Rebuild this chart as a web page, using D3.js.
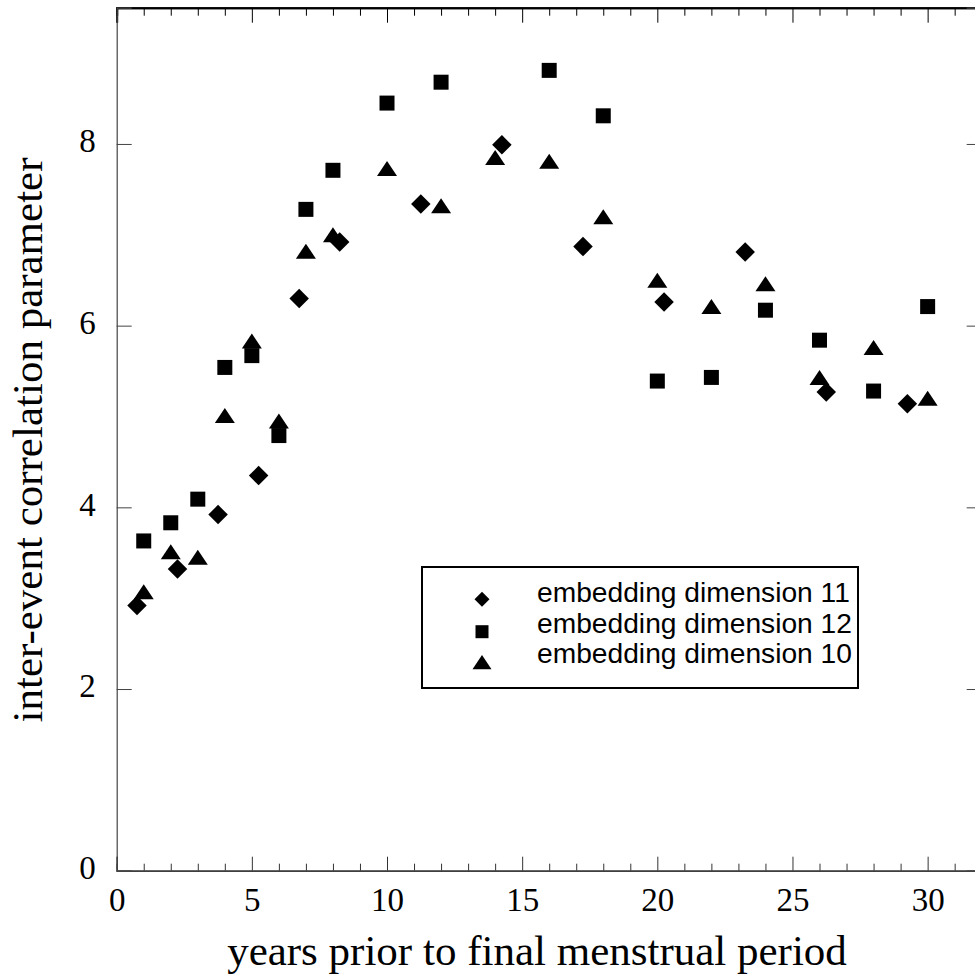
<!DOCTYPE html>
<html><head><meta charset="utf-8">
<script src="https://cdn.jsdelivr.net/npm/d3@7"></script>
<style>
html,body{margin:0;padding:0;background:#fff;}
svg{display:block;}
</style></head>
<body>
<svg id="chart" width="975" height="980"></svg>
<script>
// ---- data ----
const dim11X = [0.75, 2.25, 3.75, 5.25, 6.75, 8.25, 11.25, 14.25, 17.25, 20.25, 23.25, 26.25, 29.25];
const dim11Y = [2.92, 3.32, 3.92, 4.35, 6.30, 6.92, 7.34, 7.99, 6.87, 6.26, 6.81, 5.27, 5.14];

const dim12X = [1, 2, 3, 4, 5, 6, 7, 8, 10, 12, 16, 18, 20, 22, 24, 26, 28, 30];
const dim12Y = [3.63, 3.83, 4.09, 5.54, 5.67, 4.79, 7.28, 7.71, 8.45, 8.68, 8.81, 8.31, 5.39, 5.43, 6.17, 5.84, 5.28, 6.21];

const dim10X = [1, 2, 3, 4, 5, 6, 7, 8, 10, 12, 14, 16, 18, 20, 22, 24, 26, 28, 30];
const dim10Y = [3.07, 3.51, 3.45, 5.01, 5.83, 4.95, 6.82, 7.00, 7.73, 7.32, 7.85, 7.81, 7.20, 6.50, 6.21, 6.46, 5.43, 5.76, 5.20];

const xMajorTicks = [0, 5, 10, 15, 20, 25, 30];
const yMajorTicks = [0, 2, 4, 6, 8];
const legendLabels = ["embedding dimension 11", "embedding dimension 12", "embedding dimension 10"];
const xTitle = "years prior to final menstrual period";
const yTitle = "inter-event correlation parameter";

// ---- layout ----
const svg = d3.select("#chart");
const L = 116.7, R = 981.7, T = 7.7, B = 870.7;
const x = d3.scaleLinear().domain([0, 32]).range([L, R]);
const y = d3.scaleLinear().domain([0, 9.5]).range([B, T]);
const xMinor = d3.range(0, 33, 1).filter(v => v % 5 !== 0);

const serif = "'Liberation Serif','Times New Roman',Times,serif";
const sans = "'Liberation Sans',Arial,Helvetica,sans-serif";

// custom symbols
const diamondSym = { draw(ctx, size) { const r = Math.sqrt(size); ctx.moveTo(0,-r); ctx.lineTo(r,0); ctx.lineTo(0,r); ctx.lineTo(-r,0); ctx.closePath(); } };
const squareSym = { draw(ctx, size) { const h = Math.sqrt(size)/2; ctx.rect(-h,-h,2*h,2*h); } };
const triSym = { draw(ctx, size) { const w = Math.sqrt(size); const h = w*0.75; ctx.moveTo(0,-h/2); ctx.lineTo(w/2,h/2); ctx.lineTo(-w/2,h/2); ctx.closePath(); } };

function styleAxis(g, color, width) {
  g.select(".domain").attr("stroke", color).attr("stroke-width", width);
  g.selectAll(".tick line").attr("stroke", color).attr("stroke-width", 1);
}

// bottom axis minor
svg.append("g").attr("transform", `translate(0,${B})`)
  .call(d3.axisBottom(x).tickValues(xMinor).tickSize(-7).tickFormat(""))
  .call(g => styleAxis(g, "#333", 1.2));
// bottom axis major
svg.append("g").attr("transform", `translate(0,${B})`)
  .call(d3.axisBottom(x).tickValues(xMajorTicks).tickSize(-14).tickFormat(d3.format("d")))
  .call(g => styleAxis(g, "#333", 1.2))
  .call(g => g.selectAll("text").attr("y", 40).attr("dy", null)
    .attr("font-family", serif).attr("font-size", 33).attr("fill", "#000"));

// top axis
svg.append("g").attr("transform", `translate(0,${T})`)
  .call(d3.axisTop(x).tickValues(xMinor).tickSize(-8).tickFormat(""))
  .call(g => styleAxis(g, "#000", 2));
svg.append("g").attr("transform", `translate(0,${T})`)
  .call(d3.axisTop(x).tickValues(xMajorTicks).tickSize(-15).tickFormat(""))
  .call(g => styleAxis(g, "#000", 2));

// left axis
svg.append("g").attr("transform", `translate(${L},0)`)
  .call(d3.axisLeft(y).tickValues(yMajorTicks).tickSize(-15).tickPadding(21).tickFormat(d3.format("d")))
  .call(g => styleAxis(g, "#444", 1.2))
  .call(g => g.selectAll("text").attr("dy", "0.24em")
    .attr("font-family", serif).attr("font-size", 33).attr("fill", "#000"));

// right axis
svg.append("g").attr("transform", `translate(${R},0)`)
  .call(d3.axisRight(y).tickValues(yMajorTicks).tickSize(-15).tickFormat(""))
  .call(g => styleAxis(g, "#444", 1.2));

// axis titles
svg.append("text").attr("x", 537).attr("y", 965).attr("text-anchor", "middle")
  .attr("font-family", serif).attr("font-size", 43).text(xTitle);
svg.append("text").attr("transform", `translate(42,440) rotate(-90)`).attr("text-anchor", "middle")
  .attr("font-family", serif).attr("font-size", 43).text(yTitle);

// points
function plotSeries(xs, ys, type, size) {
  const sym = d3.symbol().type(type).size(size);
  svg.append("g").selectAll("path").data(xs.map((v, i) => [v, ys[i]])).join("path")
    .attr("transform", d => `translate(${x(d[0])},${y(d[1])})`)
    .attr("d", sym).attr("fill", "#000");
}
plotSeries(dim12X, dim12Y, squareSym, 225);
plotSeries(dim10X, dim10Y, triSym, 400);
plotSeries(dim11X, dim11Y, diamondSym, 95);

// legend
const lg = svg.append("g");
lg.append("rect").attr("x", 422).attr("y", 567).attr("width", 436).attr("height", 121)
  .attr("fill", "#fff").attr("stroke", "#000").attr("stroke-width", 2);
const legendSyms = [[diamondSym, 56], [squareSym, 169], [triSym, 361]];
const legendSymY = [599.3, 631.7, 662];
const legendTextY = [602, 632.5, 663];
legendLabels.forEach((lab, i) => {
  lg.append("path").attr("transform", `translate(482,${legendSymY[i]})`)
    .attr("d", d3.symbol().type(legendSyms[i][0]).size(legendSyms[i][1])).attr("fill", "#000");
  lg.append("text").attr("x", 537).attr("y", legendTextY[i])
    .attr("font-family", sans).attr("font-size", 28.2).text(lab);
});
</script>
</body></html>
